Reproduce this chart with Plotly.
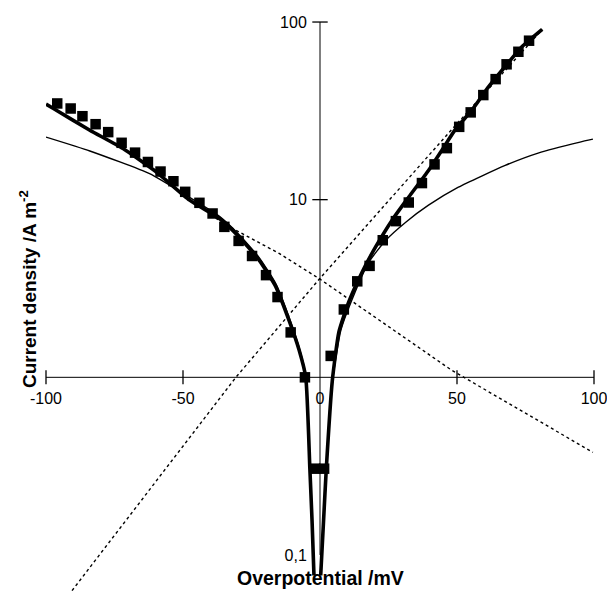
import plotly.graph_objects as go

# ---------------- data ----------------
# experimental points (overpotential mV, current density A m^-2)
exp_eta = [-95.9, -91.0, -86.7, -81.9, -77.3, -72.4, -67.5, -62.8, -58.2, -53.5,
           -49.2, -44.0, -39.2, -34.9, -29.7, -24.8, -19.7, -15.5, -10.7, -5.5,
           -1.8, 1.5,
           3.9, 8.7, 13.6, 18.1, 22.9, 27.7, 32.4, 37.2, 41.8, 46.3,
           50.8, 55.0, 59.6, 64.1, 68.1, 72.4, 76.3]
exp_j = [34.8, 32.6, 29.5, 26.6, 24.0, 20.9, 18.4, 16.3, 14.4, 12.7,
         11.07, 9.6, 8.36, 7.03, 5.86, 4.82, 3.76, 2.83, 1.79, 1.0,
         0.306, 0.306,
         1.32, 2.41, 3.47, 4.24, 5.91, 7.57, 9.64, 12.4, 15.8, 19.5,
         25.7, 31.0, 38.8, 47.7, 57.8, 68.0, 78.5]

# bold fitted curve
fit_left_eta = [-100, -97.3, -84.0, -71.9, -59.7, -47.6, -36.7, -29.5, -22.2, -16.1,
                -11.3, -7.6, -5.2, -3.7, -2.9, -2.2]
fit_left_j = [34.5, 32.6, 24.6, 19.4, 14.3, 9.94, 7.83, 6.17, 4.56, 3.23,
              2.09, 1.42, 1.0, 0.306, 0.156, 0.0767]
fit_right_eta = [0.25, 1.3, 2.3, 4.5, 6.9, 10.5, 15.4, 20.3, 26.3, 32.4,
                 39.6, 44.5, 49.3, 55.4, 61.5, 67.5, 73.6, 81.1]
fit_right_j = [0.0767, 0.156, 0.306, 0.96, 1.80, 2.66, 3.92, 5.42, 7.67, 10.35,
               14.6, 19.0, 24.7, 31.9, 43.1, 56.0, 72.4, 91.0]

# thin curve
thin_left_eta = [-100, -84.0, -62.2, -47.6, -36.7, -29.5, -22.2, -16.1, -11.3, -7.6,
                 -5.2, -3.7, -2.9, -2.2]
thin_left_j = [22.5, 18.8, 14.0, 10.3, 8.05, 6.35, 4.72, 3.36, 2.18, 1.47,
               1.03, 0.315, 0.16, 0.077]
thin_right_eta = [0.3, 1.4, 2.4, 4.6, 7.6, 11.6, 17.8, 24.0, 31.3, 39.6,
                  50.5, 67.6, 79.6, 94.9, 99.6]
thin_right_j = [0.077, 0.156, 0.306, 0.96, 1.84, 2.72, 4.44, 5.91, 7.47, 9.31,
                11.76, 15.6, 18.3, 21.1, 21.9]

# dotted Tafel lines
tafel_a_eta = [-90.5, -30.7, 0.0, 21.5, 46.9, 81.1]
tafel_a_j = [0.063, 1.0, 3.61, 8.5, 23.7, 90.7]
tafel_c_eta = [-40.0, -30.7, -14.9, 0.0, 48.1, 99.6]
tafel_c_j = [8.2, 6.73, 4.98, 3.57, 1.095, 0.378]

# axes
x_ticks = [-100, -50, 0, 50, 100]
x_tick_text = ["-100", "-50", "0", "50", "100"]
y_ticks = [0.1, 10, 100]
y_tick_text = ["0,1", "10", "100"]
x_mark_ticks = [-100, -50, 50, 100]
y_mark_ticks = [10, 100]

FONT = "Liberation Sans, Arial, sans-serif"

fig = go.Figure()

# axis lines
fig.add_trace(go.Scatter(x=[-100, 100], y=[1, 1], mode="lines",
                         line=dict(color="black", width=1), hoverinfo="skip"))
fig.add_trace(go.Scatter(x=[0, 0], y=[0.1, 100], mode="lines",
                         line=dict(color="black", width=1), hoverinfo="skip"))
# crossing tick marks
fig.add_trace(go.Scatter(x=x_mark_ticks, y=[1] * len(x_mark_ticks), mode="markers",
                         marker=dict(symbol="line-ns", size=10,
                                     line=dict(color="black", width=1.3)),
                         hoverinfo="skip", cliponaxis=False))
fig.add_trace(go.Scatter(x=[0] * len(y_mark_ticks), y=y_mark_ticks, mode="markers",
                         marker=dict(symbol="line-ew", size=11,
                                     line=dict(color="black", width=1.3)),
                         hoverinfo="skip", cliponaxis=False))

# dotted Tafel lines
for ex, ey in [(tafel_a_eta, tafel_a_j), (tafel_c_eta, tafel_c_j)]:
    fig.add_trace(go.Scatter(x=ex, y=ey, mode="lines",
                             line=dict(color="black", width=1.4, dash="dot"),
                             hoverinfo="skip"))

# thin curve
fig.add_trace(go.Scatter(x=thin_left_eta + [None] + thin_right_eta,
                         y=thin_left_j + [None] + thin_right_j,
                         mode="lines",
                         line=dict(color="black", width=1.4, shape="spline", smoothing=0.5),
                         hoverinfo="skip"))
# bold curve
fig.add_trace(go.Scatter(x=fit_left_eta + [None] + fit_right_eta,
                         y=fit_left_j + [None] + fit_right_j,
                         mode="lines",
                         line=dict(color="black", width=3.6, shape="spline", smoothing=0.5),
                         hoverinfo="skip"))
# experimental squares
fig.add_trace(go.Scatter(x=exp_eta, y=exp_j, mode="markers",
                         marker=dict(symbol="square", size=10.5, color="black"),
                         hoverinfo="skip", cliponaxis=False))

fig.update_layout(
    width=607, height=592,
    margin=dict(l=46, r=11, t=0, b=0),
    paper_bgcolor="white", plot_bgcolor="white",
    showlegend=False,
    font=dict(family=FONT, size=16, color="black"),
    xaxis=dict(range=[-100, 100], domain=[0, 1], anchor="free", position=0.3626,
               showgrid=False, zeroline=False, showline=False,
               tickmode="array", tickvals=x_ticks, ticktext=x_tick_text,
               ticks="outside", ticklen=6, tickcolor="rgba(0,0,0,0)",
               ticklabeloverflow="allow",
               tickfont=dict(family=FONT, size=16, color="black")),
    yaxis=dict(type="log", range=[-1.2085, 2.124], domain=[0, 1],
               anchor="free", position=0.5,
               showgrid=False, zeroline=False, showline=False,
               tickmode="array", tickvals=y_ticks, ticktext=y_tick_text,
               ticks="outside", ticklen=10, tickcolor="rgba(0,0,0,0)",
               ticklabeloverflow="allow",
               tickfont=dict(family=FONT, size=16, color="black")),
    annotations=[
        dict(text="<b>Overpotential /mV</b>", xref="paper", yref="paper",
             x=0.5, y=1 - 578 / 592, xanchor="center", yanchor="middle",
             showarrow=False, font=dict(family=FONT, size=19.5, color="black")),
        dict(text="<b>Current density /A m<sup>-2</sup></b>", xref="paper", yref="paper",
             x=(28 - 46) / 550, y=1 - 289 / 592, xanchor="center", yanchor="middle",
             textangle=-90, showarrow=False,
             font=dict(family=FONT, size=19, color="black")),
    ],
)

fig.write_html("out.html")
